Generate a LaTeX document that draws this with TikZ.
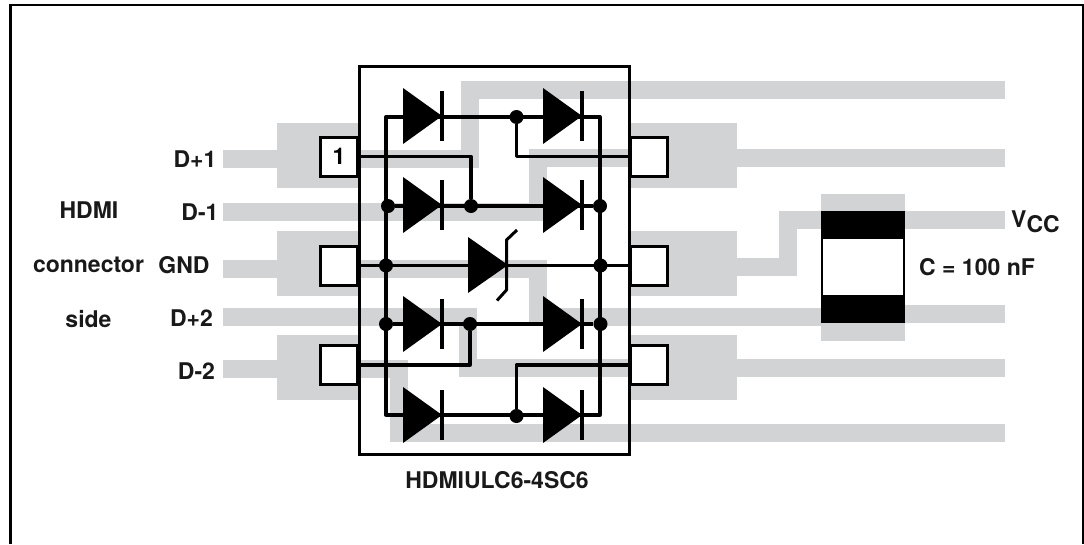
\documentclass[tikz,border=0pt]{standalone}
\usepackage{fontspec}
\setmainfont{TeX Gyre Heros}
\usetikzlibrary{shapes.geometric}
\definecolor{tracegray}{HTML}{D1D3D4}
\tikzstyle{trace} = [line width=18pt, draw=tracegray, line join=miter]
\tikzstyle{land} = [rectangle, fill=tracegray, inner sep=0pt, minimum height=65pt]
\tikzstyle{pad} = [rectangle, draw=black, fill=white, line width=3pt, minimum width=37pt, minimum height=39pt, inner sep=0pt, font=\bfseries\fontsize{23}{25}\selectfont]
\tikzstyle{chip} = [rectangle, draw=black, line width=3pt, minimum width=270pt, minimum height=388pt]
\tikzstyle{wire} = [line width=3.3pt, line join=round]
\tikzstyle{dot} = [circle, fill=black, inner sep=0pt, minimum size=14pt]
\tikzstyle{diode} = [isosceles triangle, isosceles triangle stretches, fill=black, inner sep=0pt, outer sep=0pt, minimum height=39pt, minimum width=56pt, anchor=apex]
\tikzstyle{bar} = [rectangle, fill=black, inner sep=0pt, minimum width=3.5pt, minimum height=50pt]
\tikzstyle{label} = [font=\bfseries\fontsize{23}{25}\selectfont, inner sep=0pt, text=black!90]

\begin{document}
\begin{tikzpicture}[x=1pt, y=-1pt]
\useasboundingbox (0,0) rectangle (1084,544);

% frame
\draw [line width=2.5pt] (10.5,544) -- (10.5,5) -- (1083,5) -- (1083,544);

% copper
\node (landa) [land, minimum width=82pt] at (318,155.5) {};
\node (landb) [land, minimum width=108pt] at (683,155.5) {};
\node (landc) [land, minimum width=82pt] at (318,263.5) {};
\node (landd) [land, minimum width=108pt] at (683,263.5) {};
\node (lande) [land, minimum width=82pt] at (318,367.5) {};
\node (landf) [land, minimum width=108pt] at (683,367.5) {};
\draw [trace] (223,159) -- (470,159) -- (470,90) -- (1005,90);
\draw [trace] (223,212) -- (537.5,212) -- (537.5,158) -- (1005,158);
\draw [trace] (223,269) -- (537.5,269) -- (537.5,317) -- (821,317);
\draw [trace] (223,317) -- (468,317) -- (468,367.5) -- (1005,367.5);
\draw [trace] (223,369) -- (399,369) -- (399,432.5) -- (1005,432.5);
\draw [trace] (683,267) -- (788,267) -- (788,220) -- (1005,220);
\draw [trace] (905,314) -- (1005,314);

% capacitor
\node (capbody) [rectangle, fill=tracegray, inner sep=0pt, minimum width=84pt, minimum height=147pt] at (863,267.5) {};
\node (capmetal) [rectangle, fill=black, inner sep=0pt, minimum width=84pt, minimum height=112pt] at (863,267) {};
\node (capgap) [rectangle, fill=white, inner sep=0pt, minimum width=80pt, minimum height=56pt] at (863,267) {};

% package
\node (chip) [chip] at (494,260) {};
\node (pada) [pad] at (339,156.5) {1};
\node (padb) [pad] at (649,156.5) {};
\node (padc) [pad] at (339,265.5) {};
\node (padd) [pad] at (649,265.5) {};
\node (pade) [pad] at (339,365) {};
\node (padf) [pad] at (649,365) {};

% diodes
\node (da) [diode] at (442,116) {};
\node (db) [diode] at (582,116) {};
\node (dc) [diode] at (442,205) {};
\node (dd) [diode] at (582,205) {};
\node (de) [diode, minimum height=40pt] at (508,265) {};
\node (df) [diode] at (442,324) {};
\node (dg) [diode] at (582,324) {};
\node (dh) [diode] at (442,415) {};
\node (di) [diode] at (582,415) {};
\node (ba) [bar] at (da.apex) {};
\node (bb) [bar] at (db.apex) {};
\node (bc) [bar] at (dc.apex) {};
\node (bd) [bar] at (dd.apex) {};
\node (bf) [bar] at (df.apex) {};
\node (bg) [bar] at (dg.apex) {};
\node (bh) [bar] at (dh.apex) {};
\node (bi) [bar] at (di.apex) {};
\draw [line width=3pt, line join=round] (517,230) -- (506.5,240) -- (506.5,290) -- (497,300.5);

% junctions
\node (ja) [dot] at (516.5,117) {};
\node (jb) [dot] at (388,206) {};
\node (jc) [dot] at (471,206) {};
\node (jd) [dot] at (600,206) {};
\node (je) [dot] at (386,265.5) {};
\node (jf) [dot] at (600.5,265.5) {};
\node (jg) [dot] at (386,324) {};
\node (jh) [dot] at (470,324) {};
\node (ji) [dot] at (600.5,324) {};
\node (jj) [dot] at (516.5,416) {};
\coordinate (lefttop) at (386,117);
\coordinate (righttop) at (600,117);
\coordinate (leftbot) at (386,415);
\coordinate (rightbot) at (600,415);

\draw [wire] (leftbot) -- (lefttop) -- (righttop) -- (rightbot) -- cycle;
\draw [wire] (jb) -- (jd);
\draw [wire] (jg) -- (ji);
\draw [wire] (padc.east) -- (padd.west);
\draw [wire] (ja) |- (padb.west);
\draw [wire] (pada.east) -| (jc);
\draw [wire] (pade.east) -| (jh);
\draw [wire] (padf.west) -| (jj);

% labels
\node (dpa) [label] at (195,159) {D+1};
\node (dma) [label] at (200,212) {D-1};
\node (gnd) [label] at (184,265) {GND};
\node (dpb) [label] at (191.5,318) {D+2};
\node (dmb) [label] at (196.5,371) {D-2};
\node (hdmi) [label] at (89,210) {HDMI};
\node (conn) [label] at (88.5,265) {connector};
\node (side) [label] at (88.5,319) {side};
\node (part) [label] at (497,480) {HDMIULC6-4SC6};
\node (capv) [label] at (977,267) {C = 100 nF};
\node (vcc) [label] at (1035.5,222) {V\raisebox{-5pt}{CC}};

\end{tikzpicture}
\end{document}
